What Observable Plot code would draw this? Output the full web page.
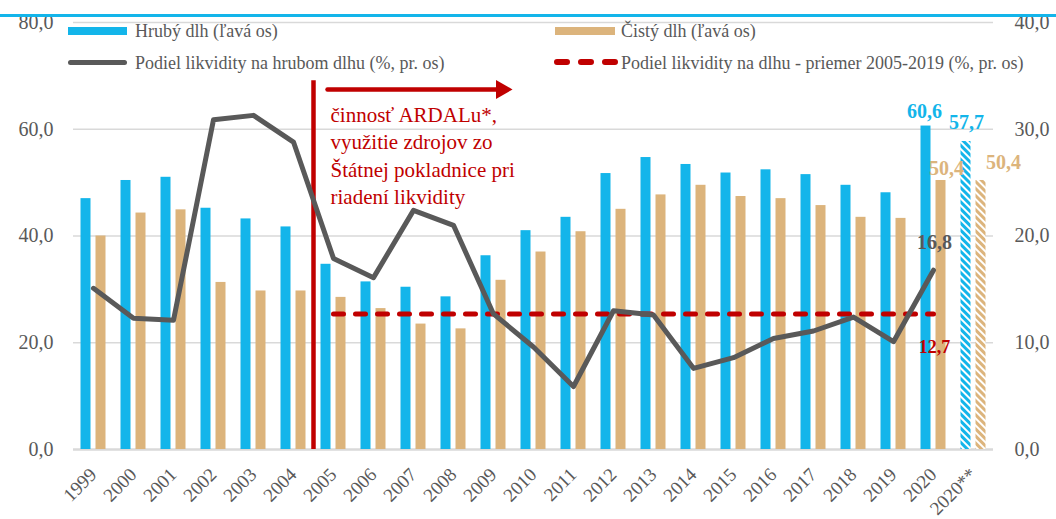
<!DOCTYPE html>
<html><head><meta charset="utf-8">
<script src="https://cdn.jsdelivr.net/npm/d3@7"></script>
<script src="https://cdn.jsdelivr.net/npm/@observablehq/plot@0.6"></script>
<style>
body{margin:0;background:#fff;font-family:'Liberation Serif',serif;}
#wrap{position:relative;width:1056px;height:519px;overflow:hidden;}
#topline{position:absolute;left:0;top:14px;width:1056px;height:3px;background:#13b5ea;}
.sw{position:absolute;}
.lt{position:absolute;font-family:'Liberation Serif',serif;font-size:18px;color:#595959;line-height:18px;white-space:nowrap;}
svg text{font-family:'Liberation Serif',serif;}
</style></head><body>
<div id="wrap">
<div id="chart"></div>
<div id="topline"></div>
<div class="sw" style="left:68px;top:27px;width:59px;height:8px;background:#13b5ea"></div>
<div class="lt" style="left:135px;top:22px">Hrubý dlh (ľavá os)</div>
<div class="sw" style="left:555px;top:27px;width:60px;height:8px;background:#dcb47c"></div>
<div class="lt" style="left:621px;top:22px">Čistý dlh (ľavá os)</div>
<div class="sw" style="left:68px;top:60px;width:59px;height:5px;background:#595959;border-radius:3px"></div>
<div class="lt" style="left:135px;top:54px">Podiel likvidity na hrubom dlhu (%, pr. os)</div>
<svg class="sw" style="left:553px;top:56px" width="66" height="12"><line x1="4" y1="6" x2="62" y2="6" stroke="#c00000" stroke-width="6" stroke-linecap="round" stroke-dasharray="10,14"/></svg>
<div class="lt" style="left:621px;top:54px">Podiel likvidity na dlhu - priemer 2005-2019 (%, pr. os)</div>
</div>
<script>
const years = ["1999","2000","2001","2002","2003","2004","2005","2006","2007","2008","2009","2010","2011","2012","2013","2014","2015","2016","2017","2018","2019","2020","2020**"];
const grossDebt = [47.0,50.4,51.0,45.2,43.2,41.7,34.7,31.4,30.4,28.6,36.3,41.0,43.5,51.7,54.7,53.4,51.8,52.4,51.5,49.5,48.1,60.6,57.7];
const netDebt = [40.0,44.3,44.9,31.3,29.7,29.7,28.5,26.4,23.5,22.6,31.7,37.0,40.8,45.0,47.7,49.5,47.4,47.0,45.7,43.5,43.3,50.4,50.4];
const liquidityYears = years.slice(0, 22);
const liquidityShare = [15.1,12.3,12.1,30.9,31.3,28.8,17.9,16.1,22.4,21.0,12.7,9.6,5.9,13.0,12.6,7.6,8.6,10.4,11.1,12.4,10.1,16.8];
const avgYears = years.slice(6, 22);
const avgShare = 12.7;
const leftTicks = [0,20,40,60,80];
const annotationText = "činnosť ARDALu*,\nvyužitie zdrojov zo\nŠtátnej pokladnice pri\nriadení likvidity";

const FONT = "'Liberation Serif', serif";
const BLUE = "#13b5ea", TAN = "#dcb47c", GREY = "#595959", RED = "#c00000", GRID = "#d9d9d9";
const K = 2; // right axis (0–40) mapped onto left axis (0–80)
const fmt = v => d3.format(".1f")(v).replace(".", ",");

const bars = years.map((y, i) => ({year: y, gross: grossDebt[i], net: netDebt[i], proj: y.includes("*")}));
const line = liquidityYears.map((y, i) => ({year: y, v: liquidityShare[i] * K}));
const avg = avgYears.map(y => ({year: y, v: avgShare * K}));

const labels = [
  {year: "2020", y: grossDebt[21], t: fmt(grossDebt[21]), c: BLUE, dx: -9, dy: -14},
  {year: "2020**", y: grossDebt[22], t: fmt(grossDebt[22]), c: BLUE, dx: -7, dy: -19},
  {year: "2020", y: netDebt[21], t: fmt(netDebt[21]), c: TAN, dx: 13, dy: -12},
  {year: "2020**", y: netDebt[22], t: fmt(netDebt[22]), c: TAN, dx: 30, dy: -18},
  {year: "2020", y: liquidityShare[21] * K, t: fmt(liquidityShare[21]), c: GREY, dx: 1, dy: -28},
  {year: "2020", y: avgShare * K, t: fmt(avgShare), c: RED, dx: 1, dy: 33, fs: 18}
];

const chart = Plot.plot({
  width: 1056, height: 519,
  marginTop: 22, marginBottom: 70, marginLeft: 73, marginRight: 63,
  style: {fontFamily: FONT, color: GREY, background: "white", overflow: "visible"},
  x: {type: "band", domain: years, padding: 0, round: false},
  y: {domain: [0, 80]},
  marks: [
    Plot.gridY([20,40,60,80], {stroke: GRID, strokeOpacity: 1, strokeWidth: 1.5}),
    Plot.ruleY([0], {stroke: GRID, strokeWidth: 2.5}),
    Plot.barY(bars.filter(d => !d.proj), {x: "year", y: "gross", fill: BLUE, insetLeft: 7.5, insetRight: 22.5}),
    Plot.barY(bars.filter(d => !d.proj), {x: "year", y: "net", fill: TAN, insetLeft: 22.5, insetRight: 7.5}),
    Plot.barY(bars.filter(d => d.proj), {x: "year", y: "gross", fill: "url(#hatchBlue)", insetLeft: 7.5, insetRight: 22.5}),
    Plot.barY(bars.filter(d => d.proj), {x: "year", y: "net", fill: "url(#hatchTan)", insetLeft: 22.5, insetRight: 7.5}),
    Plot.ruleX(["2005"], {x: d => d, y1: 0, y2: 69.1, dx: -20, stroke: RED, strokeWidth: 4.5}),
    Plot.arrow([0], {x1: () => "2005", x2: () => "2010", y1: 67.45, y2: 67.45, insetStart: -6, insetEnd: 33, headLength: 0, stroke: RED, strokeWidth: 4.5}),
    Plot.dot([0], {x: () => "2010", y: 67.45, symbol: "triangle", r: 7.1, rotate: 90, dx: -32, fill: RED, stroke: "none"}),
    Plot.text([annotationText], {x: () => "2005", y: 64.9, text: d => d, dx: -3, textAnchor: "start", lineAnchor: "top", lineHeight: 1.29, fontSize: 21, fontFamily: FONT, fill: RED}),
    Plot.line(avg, {x: "year", y: "v", stroke: RED, strokeWidth: 5, strokeDasharray: "10,12", strokeLinecap: "round"}),
    Plot.line(line, {x: "year", y: "v", stroke: GREY, strokeWidth: 5}),
    ...labels.map(l => Plot.text([l], {x: "year", y: "y", text: "t", fill: l.c, dx: l.dx, dy: l.dy, fontSize: l.fs || 20, fontWeight: "bold", fontFamily: FONT})),
    Plot.axisY({ticks: leftTicks, tickFormat: fmt, tickSize: 0, tickPadding: 20, fontSize: 20, fontFamily: FONT}),
    Plot.axisY({anchor: "right", ticks: leftTicks, tickFormat: d => fmt(d / K), tickSize: 0, tickPadding: 21, fontSize: 20, fontFamily: FONT, label: null}),
    Plot.axisX({tickRotate: -45, tickSize: 0, tickPadding: 22, fontSize: 19, fontFamily: FONT, label: null})
  ]
});
d3.select(chart).insert("defs", ":first-child").html(
  `<pattern id="hatchBlue" patternUnits="userSpaceOnUse" width="5" height="5" patternTransform="rotate(-45)"><rect width="5" height="5" fill="white"/><rect width="3" height="5" fill="${BLUE}"/></pattern>` +
  `<pattern id="hatchTan" patternUnits="userSpaceOnUse" width="5" height="5" patternTransform="rotate(-45)"><rect width="5" height="5" fill="white"/><rect width="3" height="5" fill="${TAN}"/></pattern>`
);
document.getElementById("chart").appendChild(chart);
</script>
</body></html>
